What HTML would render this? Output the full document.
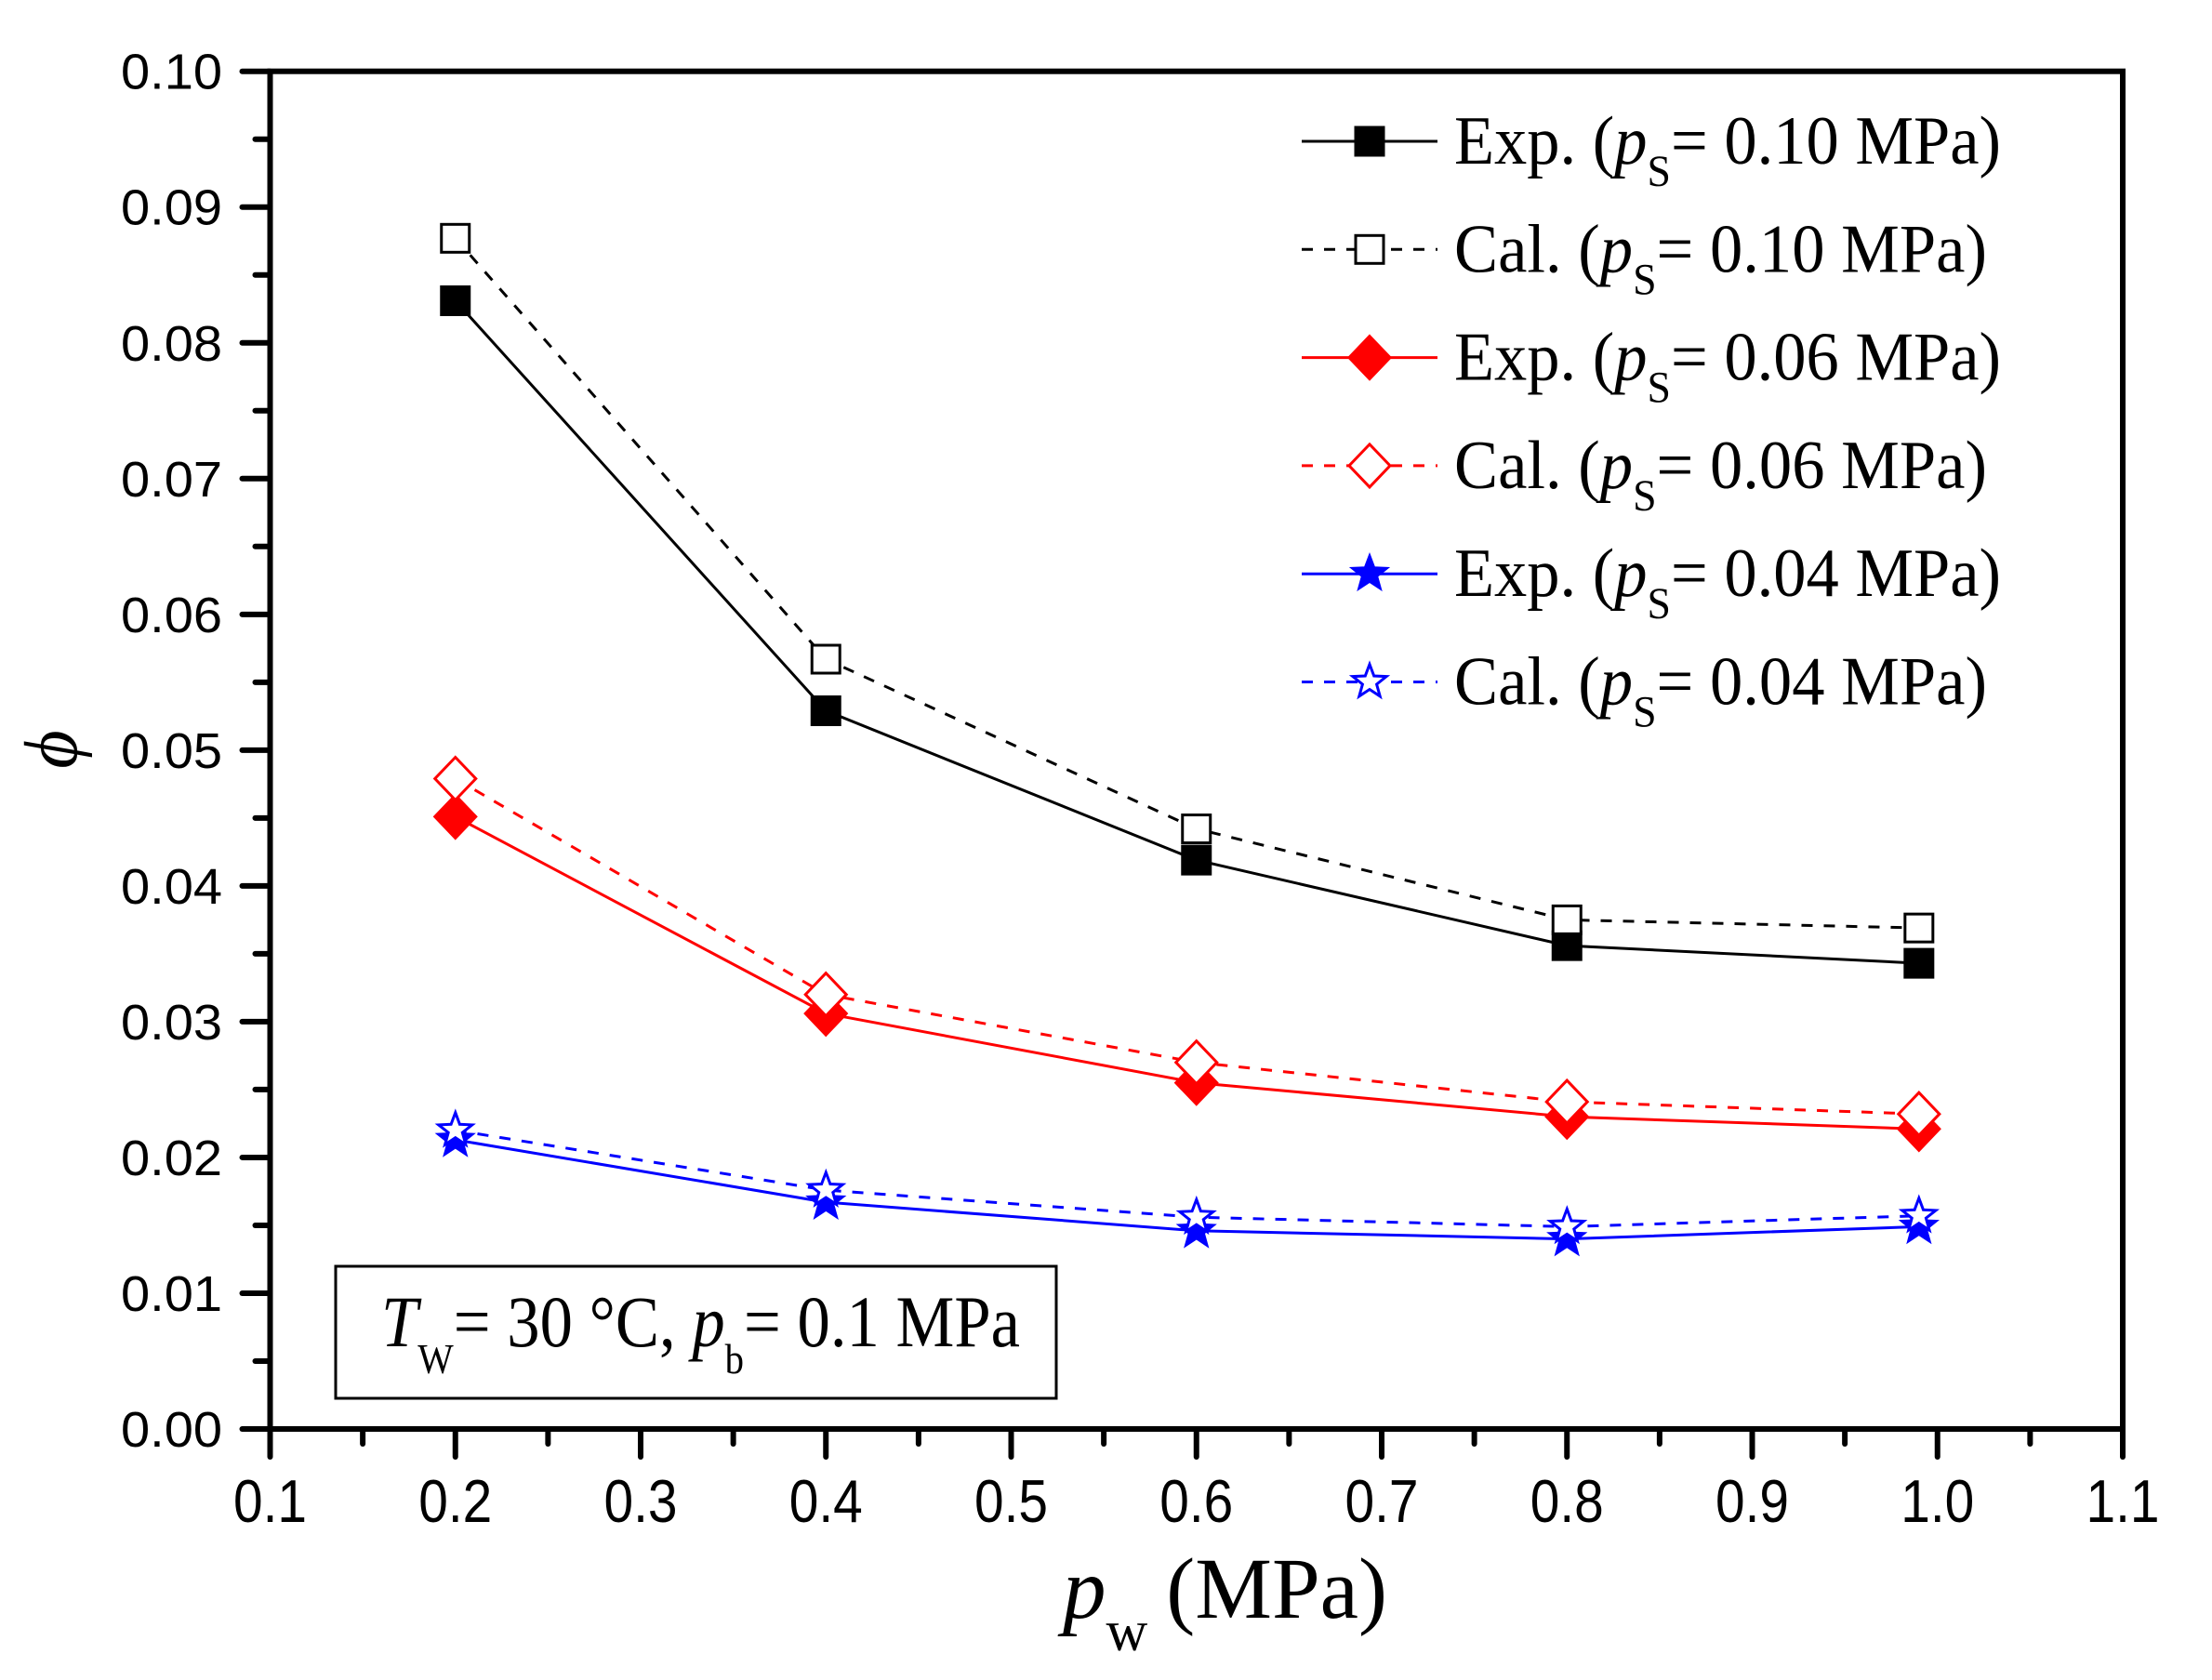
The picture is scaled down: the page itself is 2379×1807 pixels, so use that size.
<!DOCTYPE html>
<html><head><meta charset="utf-8"><style>
html,body{margin:0;padding:0;background:#fff;}
svg{display:block;}
</style></head><body>
<svg id="chart" width="2379" height="1807" viewBox="0 0 2379 1807" xmlns="http://www.w3.org/2000/svg">
<rect width="2379" height="1807" fill="#fff"/>
<g id="axes"></g>
<g id="series"></g>
<g id="legend"></g>
<g>
<rect x="361" y="1362" width="775" height="142" fill="none" stroke="#000" stroke-width="3"/>
<text x="410" y="1448" font-family="Liberation Serif, serif" font-size="78" textLength="687" lengthAdjust="spacingAndGlyphs"><tspan font-style="italic">T</tspan><tspan font-size="45" dy="29">W</tspan><tspan dy="-29">= 30 °C, </tspan><tspan font-style="italic">p</tspan><tspan font-size="45" dy="29">b</tspan><tspan dy="-29">= 0.1 MPa</tspan></text>
</g>
<text x="1143" y="1740" font-family="Liberation Serif, serif" font-size="93"><tspan font-style="italic">p</tspan><tspan font-size="62" dy="35">w</tspan><tspan dy="-35" dx="20">(MPa)</tspan></text>
<text x="0" y="0" transform="translate(82,806) rotate(-90)" text-anchor="middle" font-family="Liberation Serif, serif" font-style="italic" font-size="80">ϕ</text>
</svg>
<script>
const xCats = [0.2, 0.4, 0.6, 0.8, 0.99];
const expS10 = [0.0831, 0.0529, 0.0419, 0.0356, 0.0343];
const calS10 = [0.0877, 0.0567, 0.0442, 0.0375, 0.0369];
const expS06 = [0.0451, 0.0306, 0.0255, 0.0230, 0.0221];
const calS06 = [0.0479, 0.0320, 0.0270, 0.0241, 0.0232];
const expS04 = [0.0213, 0.0167, 0.0146, 0.0140, 0.0149];
const calS04 = [0.0220, 0.0176, 0.0156, 0.0149, 0.0157];
const xTicks = ["0.1","0.2","0.3","0.4","0.5","0.6","0.7","0.8","0.9","1.0","1.1"];
const yTicks = ["0.00","0.01","0.02","0.03","0.04","0.05","0.06","0.07","0.08","0.09","0.10"];
const legendLabels = ["Exp.","Cal.","Exp.","Cal.","Exp.","Cal."];
const legendValues = ["0.10","0.10","0.06","0.06","0.04","0.04"];

const NS = "http://www.w3.org/2000/svg";
const X0 = 290.5, X1 = 2283, Y0 = 1537, Y1 = 76.7;
function sx(v){ return X0 + (v - 0.1) / 1.0 * (X1 - X0); }
function sy(v){ return Y0 - v / 0.10 * (Y0 - Y1); }
function mk(tag, attrs, parent){ const e = document.createElementNS(NS, tag); for (const k in attrs) e.setAttribute(k, attrs[k]); parent.appendChild(e); return e; }

const axes = document.getElementById('axes');
const frame = mk('rect', {x:X0, y:Y1, width:X1-X0, height:Y0-Y1, fill:'none', stroke:'#000', 'stroke-width':6}, axes);


for (let i = 0; i < xTicks.length; i++) {
  const v = 0.1 + i * 0.1, x = sx(v);
  const t = mk('line', {x1:x, y1:Y0, x2:x, y2:Y0+30, stroke:'#000', 'stroke-width':6, 'stroke-linecap':'round'}, axes);
  
  
  if (i < xTicks.length - 1) {
    const xm = sx(v + 0.05);
    const m = mk('line', {x1:xm, y1:Y0, x2:xm, y2:Y0+16, stroke:'#000', 'stroke-width':6, 'stroke-linecap':'round'}, axes);
    
    
  }
  const lb = mk('text', {x:x, y:1637, 'text-anchor':'middle', 'font-family':'Liberation Sans, sans-serif', 'font-size':65, textLength:79, lengthAdjust:'spacingAndGlyphs'}, axes);
  lb.textContent = xTicks[i];
  
  
}
for (let i = 0; i < yTicks.length; i++) {
  const v = i * 0.01, y = sy(v);
  const t = mk('line', {x1:X0, y1:y, x2:X0-30, y2:y, stroke:'#000', 'stroke-width':6, 'stroke-linecap':'round'}, axes);
  
  
  if (i < yTicks.length - 1) {
    const ym = sy(v + 0.005);
    const m = mk('line', {x1:X0, y1:ym, x2:X0-16, y2:ym, stroke:'#000', 'stroke-width':6, 'stroke-linecap':'round'}, axes);
    
    
  }
  const lb = mk('text', {x:239, y:y+19, 'text-anchor':'end', 'font-family':'Liberation Sans, sans-serif', 'font-size':54, textLength:109, lengthAdjust:'spacingAndGlyphs'}, axes);
  lb.textContent = yTicks[i];
  
  
}

function starPts(cx, cy, R){
  const r = R * 0.42, p = [];
  for (let k = 0; k < 10; k++) { const a = -Math.PI/2 + k*Math.PI/5, rr = k%2 ? r : R; p.push((cx+rr*Math.cos(a)).toFixed(1)+','+(cy+rr*Math.sin(a)).toFixed(1)); }
  return p.join(' ');
}
function marker(g, type, filled, color, cx, cy){
  const fill = filled ? color : '#fff';
  let e;
  if (type === 'square') e = mk('rect', {x:cx-15, y:cy-15, width:30, height:30, fill:fill, stroke:color, 'stroke-width':3}, g);
  else if (type === 'diamond') e = mk('polygon', {points:`${cx},${cy-23} ${cx+22},${cy} ${cx},${cy+23} ${cx-22},${cy}`, fill:fill, stroke:color, 'stroke-width':3}, g);
  else e = mk('polygon', {points:starPts(cx, cy, 19), fill:fill, stroke:color, 'stroke-width':3, 'stroke-linejoin':'miter'}, g);
  return e;
}

const seriesDefs = [
  {name:'exp-ps-0.10', vals:expS10, color:'#000', dash:false, type:'square', filled:true},
  {name:'cal-ps-0.10', vals:calS10, color:'#000', dash:true, type:'square', filled:false},
  {name:'exp-ps-0.06', vals:expS06, color:'#f00', dash:false, type:'diamond', filled:true},
  {name:'cal-ps-0.06', vals:calS06, color:'#f00', dash:true, type:'diamond', filled:false},
  {name:'exp-ps-0.04', vals:expS04, color:'#00f', dash:false, type:'star', filled:true},
  {name:'cal-ps-0.04', vals:calS04, color:'#00f', dash:true, type:'star', filled:false}
];
const sg = document.getElementById('series');
seriesDefs.forEach(s => {
  const g = mk('g', {}, sg);
  
  
  const pts = xCats.map((x, i) => sx(x).toFixed(1) + ',' + sy(s.vals[i]).toFixed(1)).join(' ');
  const pl = mk('polyline', {points:pts, fill:'none', stroke:s.color, 'stroke-width':3}, g);
  if (s.dash) pl.setAttribute('stroke-dasharray', '12,12');
  
  
  xCats.forEach((x, i) => {
    const m = marker(g, s.type, s.filled, s.color, sx(x), sy(s.vals[i]));
    
    
  });
});

const lg = document.getElementById('legend');
seriesDefs.forEach((s, i) => {
  const y = 152 + i * 116.3;
  const g = mk('g', {}, lg);
  
  
  const ln = mk('line', {x1:1400, y1:y, x2:1546, y2:y, stroke:s.color, 'stroke-width':3}, g);
  if (s.dash) ln.setAttribute('stroke-dasharray', '12,12');
  marker(g, s.type, s.filled, s.color, 1473, y);
  const tx = mk('text', {x:1564, y:y+24, 'font-family':'Liberation Serif, serif', 'font-size':74}, g);
  const w = legendLabels[i] === 'Exp.' ? 588 : 573;
  tx.setAttribute('textLength', w);
  tx.setAttribute('lengthAdjust', 'spacingAndGlyphs');
  tx.innerHTML = legendLabels[i] + ' (<tspan font-style="italic">p</tspan><tspan font-size="48" dy="24">S</tspan><tspan dy="-24">= ' + legendValues[i] + ' MPa)</tspan>';
  
  
});
</script>
</body></html>
